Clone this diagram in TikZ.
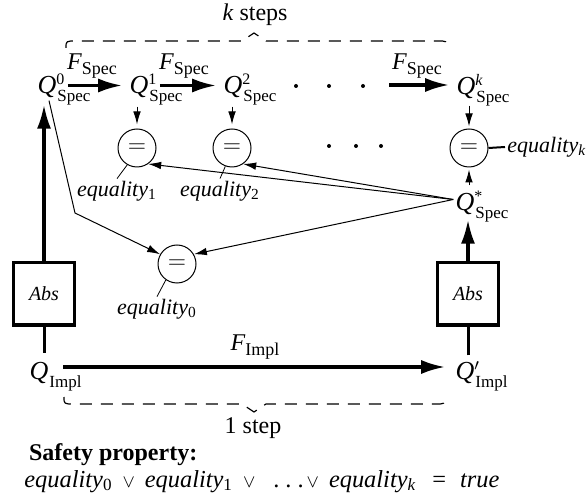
\documentclass[tikz,border=0pt]{standalone}
\usepackage{amsmath}
\usepackage{fontspec}
\setmainfont{Liberation Serif}
\usetikzlibrary{arrows.meta}
\tikzset{
  qnode/.style = {inner sep=1pt, anchor=base, font=\fontsize{13}{15}\selectfont},
  eqnode/.style = {circle, draw, line width=0.5pt, minimum size=19pt,
    inner sep=0pt},% comparison of two states
  absnode/.style = {rectangle, draw, line width=1.5pt, minimum width=30.5pt,
    minimum height=31pt, font=\itshape},% abstraction function
  eqlab/.style = {inner sep=1pt, font=\fontsize{11}{13}\selectfont},
  bigarr/.style = {line width=1.6pt, -{Latex[length=12pt,width=7pt]}},
  smallarr/.style = {line width=0.5pt, -{Latex[length=6.5pt,width=3.8pt]}},
  brace/.style = {dash pattern=on 6pt off 4.5pt, line width=0.6pt}
}
\newcommand{\Qlab}[2]{\textit{Q}%
  \rlap{\smash{\raisebox{4.5pt}{\fontsize{8}{9}\selectfont#1}}}%
  \rlap{\smash{\raisebox{-4pt}{\fontsize{8.5}{9}\selectfont\kern0.5pt#2}}}}
\newcommand{\Flab}[1]{\textit{F}\raisebox{-2.5pt}{\fontsize{9}{9}\selectfont#1}}
\newcommand{\eqty}[1]{\textit{equality}\textsubscript{#1}}
\newcommand{\orsym}{{\fontsize{9.5}{8}\selectfont$\vee$}}
\begin{document}
\begin{tikzpicture}[x=0.5pt,y=-0.5pt,font=\fontsize{12}{14}\selectfont]
\useasboundingbox (0,0) rectangle (587,501);
% spec states
\node [qnode] (q0) at (47,94) {\Qlab{0}{Spec}};
\node [qnode] (q1) at (139,94) {\Qlab{1}{Spec}};
\node [qnode] (q2) at (233,94) {\Qlab{2}{Spec}};
\node [qnode] (qk) at (466,95) {\Qlab{\textit{k}}{Spec}};
\node [qnode] (qs) at (465,211) {\Qlab{*}{Spec}};
% impl states
\node [qnode] (qi) at (39,379) {\Qlab{}{Impl}};
\node [qnode] (qj) at (465,379) {\Qlab{$\prime$}{Impl}};
\node [absnode] (absL) at (44,294) {Abs};
\node [absnode] (absR) at (468,294) {Abs};
% comparisons
\node [eqnode] (eq1) at (137,148) {$=$};
\node [eqnode] (eq2) at (232,148) {$=$};
\node [eqnode] (eqk) at (469,148) {$=$};
\node [eqnode] (eq0) at (177,264) {$=$};
\node [eqlab] (lab1) at (117,191) {\eqty{1}};
\node [eqlab] (lab2) at (220,191) {\eqty{2}};
\node [eqlab] (lab0) at (157,309) {\eqty{0}};
\node [eqlab, anchor=west] (labk) at (505,147) {\eqty{\textit{k}}};
% transition labels
\node (f1) at (92,66) {\Flab{Spec}};
\node (f2) at (184,66) {\Flab{Spec}};
\node (fk) at (417,66) {\Flab{Spec}};
\node (fi) at (255,347) {\Flab{Impl}};
\coordinate (dotsend) at (389,85);
\coordinate (bend0) at (75,213);
\coordinate (implstart) at (63,367);

\draw [bigarr, shorten >=2.5pt] ([shift={(4.5pt,1pt)}]q0.east) -- ([yshift=1pt]q1.west);
\draw [bigarr, shorten >=2.5pt] ([shift={(4.5pt,1pt)}]q1.east) -- ([yshift=1pt]q2.west);
\draw [bigarr, shorten >=2.5pt] (dotsend) -- (dotsend -| qk.west);
\foreach \x in {296,329,363} \fill (\x,86) circle [radius=1pt];
\foreach \x in {329,356,381} \fill (\x,146) circle [radius=1pt];

\draw [smallarr, shorten <=3pt, shorten >=2pt] (eq1.north |- q1.south) -- (eq1.north);
\draw [smallarr, shorten <=3pt, shorten >=2pt] (eq2.north |- q2.south) -- (eq2.north);
\draw [smallarr, shorten <=2pt, shorten >=1pt] (eqk.north |- qk.south) -- (eqk.north);
\draw [smallarr, shorten <=3pt, shorten >=1pt] (eqk.south |- qs.north) -- (eqk.south);
\draw [line width=1pt] (eqk.east) -- (labk.west);
\draw [line width=0.4pt] (eq1.240) -- (lab1.north);
\draw [line width=0.4pt] (eq2.250) -- (lab2.north);
\draw [line width=0.4pt] (eq0.235) -- (lab0.north);

\draw [smallarr] ([yshift=2.5pt]qs.west) -- (eq1.-55);
\draw [smallarr] ([yshift=2.5pt]qs.west) -- (eq2.-55);
\draw [smallarr] ([yshift=2.5pt]qs.west) -- (eq0.30);
\draw [smallarr] ([xshift=1pt]q0.south) -- (bend0) -- (eq0.150);

% abstraction
\draw [bigarr, shorten >=2pt] (absL.north) -- (absL.north |- q0.south);
\draw [line width=1.5pt, shorten >=3pt] (absL.south) -- (absL.south |- qi.north);
\draw [bigarr, shorten >=1pt] (absR.north) -- (absR.north |- qs.south);
\draw [line width=1.5pt, shorten <=2pt] (absR.south |- qj.north) -- (absR.south);
\draw [bigarr, shorten >=4pt] (implstart) -- (implstart -| qj.west);

% step braces
\draw [brace] (66,48) .. controls (66,41) .. (76,41) -- (242,41) -- (254,33)
  -- (266,41) -- (437,41) .. controls (447,41) .. (447,47);
\draw [brace] (64,397) .. controls (64,404) .. (74,404) -- (242,404) -- (254,412)
  -- (266,404) -- (435,404) .. controls (445,404) .. (445,397);
\node (ksteps) at (255,15) {\textit{k} steps};
\node (onestep) at (253,428) {1 step};
\node [anchor=west] (safety) at (22,455) {\textbf{Safety property:}};
\node [anchor=base west, inner sep=0pt, font=\fontsize{12.2}{15}\selectfont] (formula) at (24,487)
  {\eqty{0}\hspace{5pt}\orsym\hspace{5pt}\eqty{1}\hspace{5pt}\orsym\hspace{9pt}.\hspace{3pt}.\hspace{3pt}.\hspace{1.5pt}\orsym\hspace{5pt}%
   \eqty{\textit{k}}\hspace{8pt}=\hspace{7pt}\textit{true}};
\end{tikzpicture}
\end{document}
